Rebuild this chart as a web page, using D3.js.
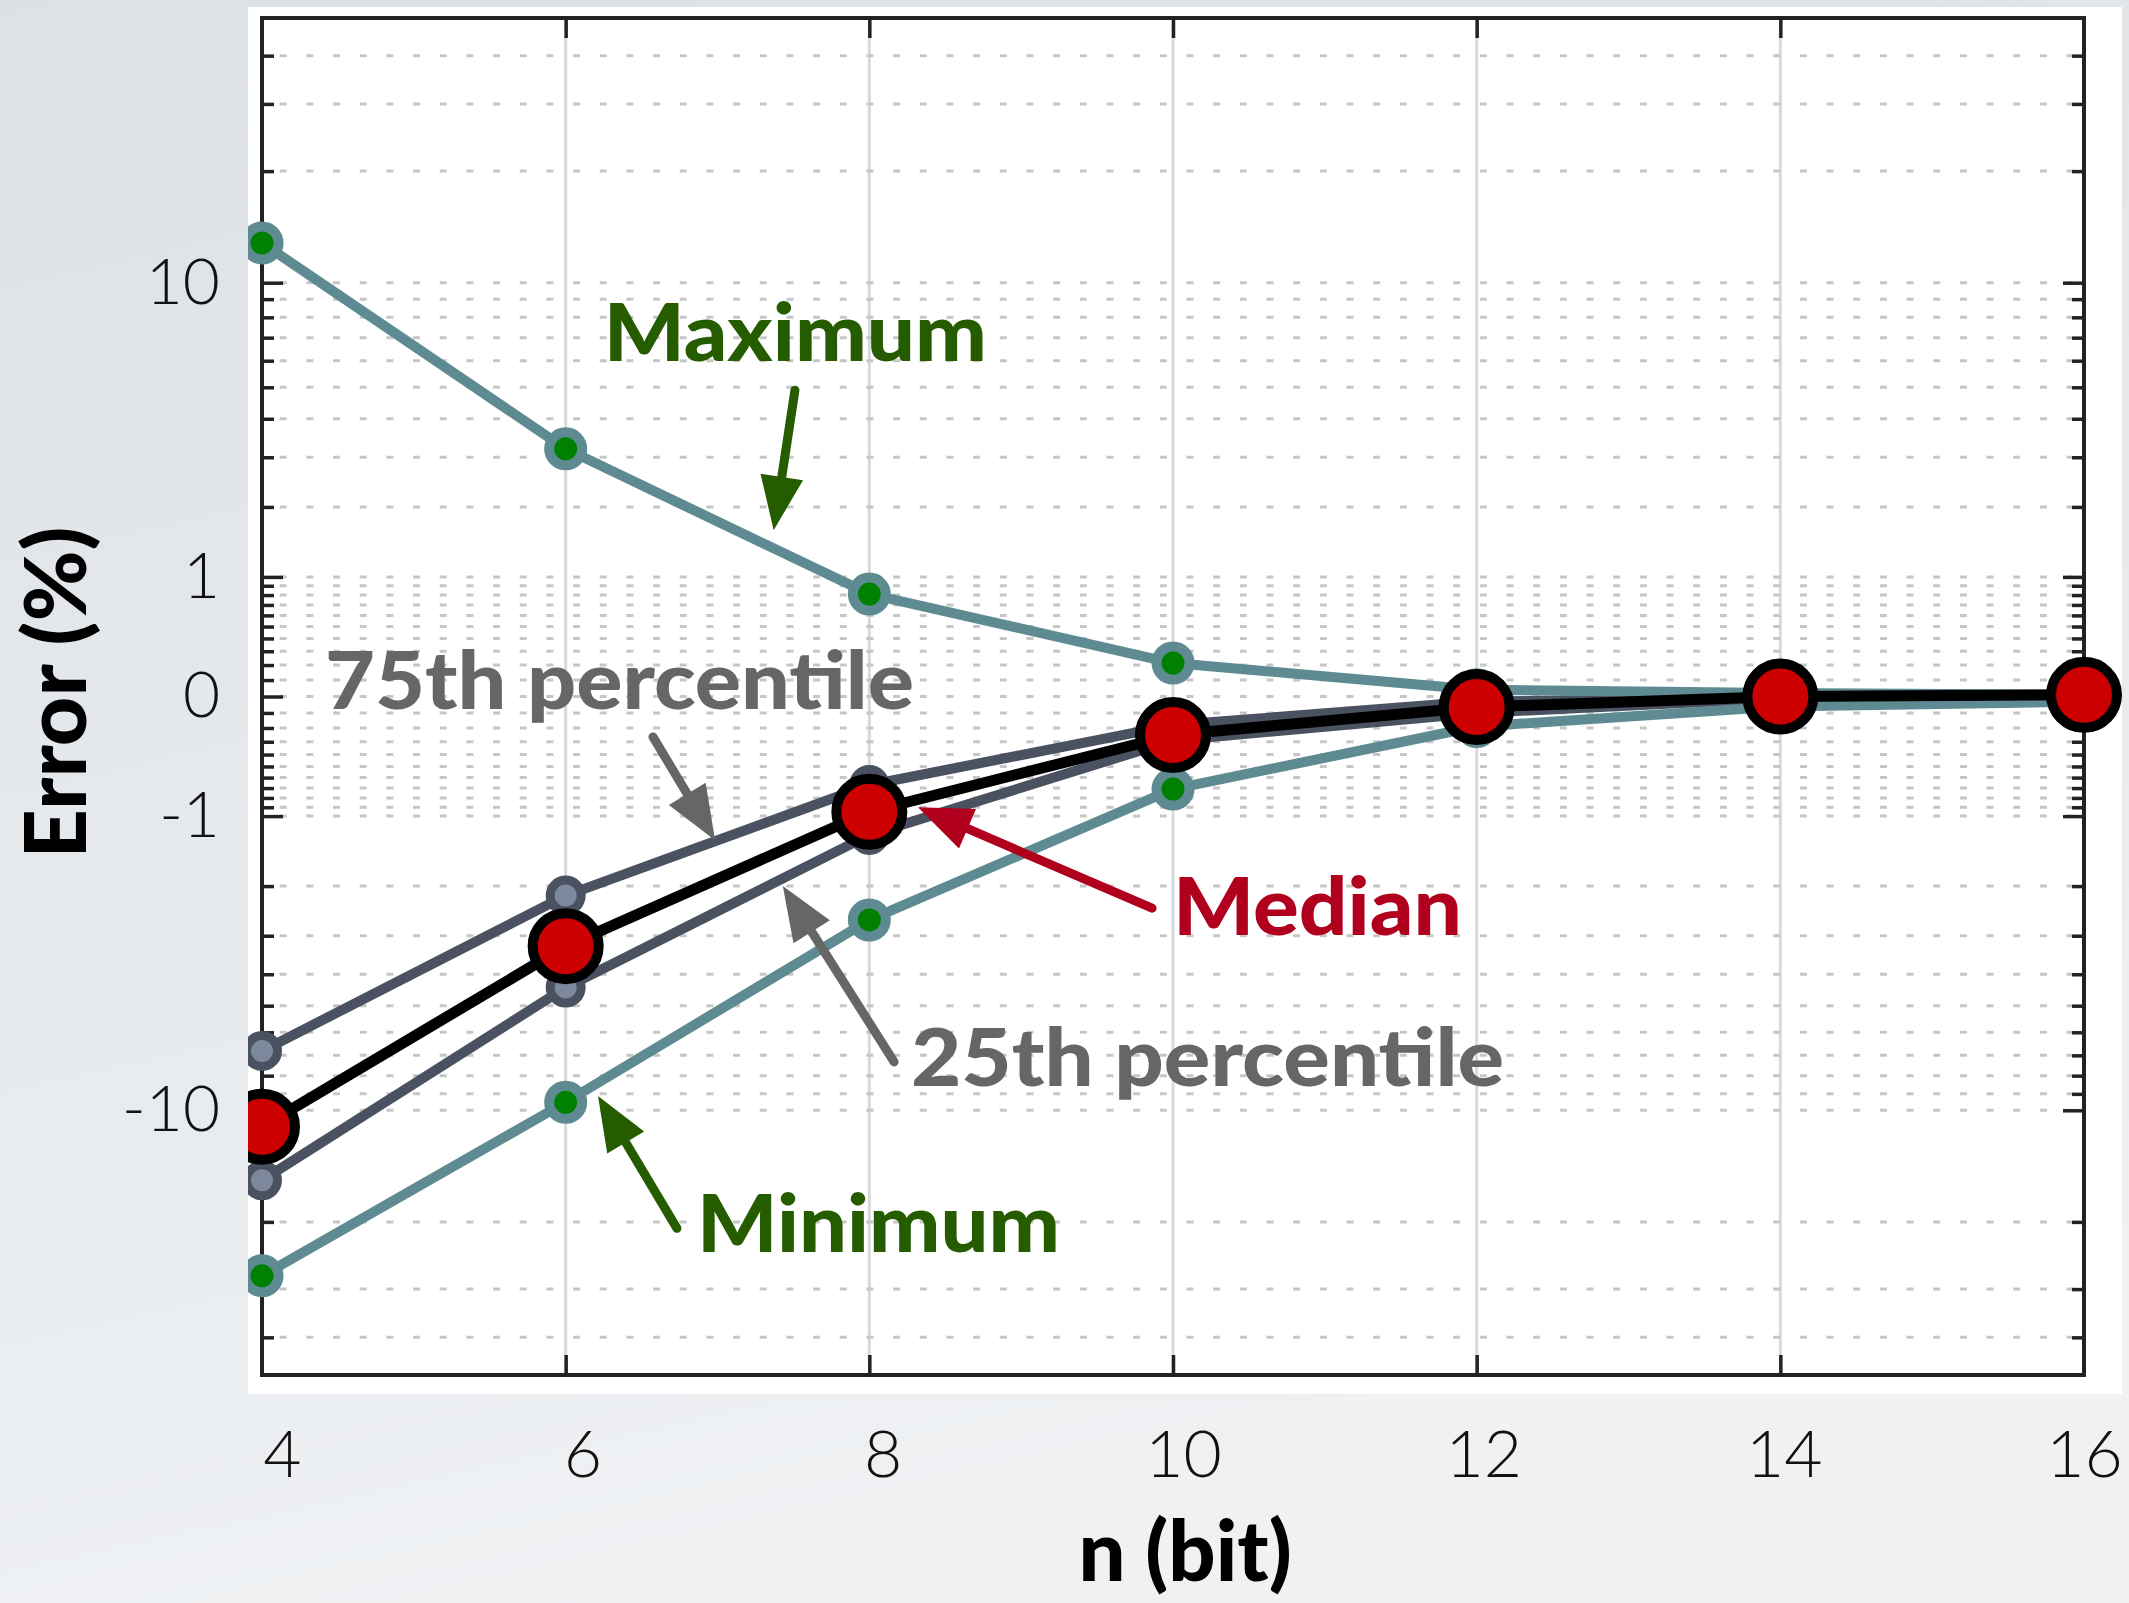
<!DOCTYPE html>
<html lang="en">
<head>
    <meta charset="UTF-8">
    <title>Error vs n (bit)</title>
    <script src="https://d3js.org/d3.v7.min.js"></script>
    <style>
        body { margin: 0; }
        text { font-family: Lato, 'Open Sans', sans-serif; }
        .tick line { stroke: #222; stroke-width: 3.5px; }
    </style>
</head>
<body>
<div class="canvas"></div>
<script>

  // data
  const bits = [4, 6, 8, 10, 12, 14, 16]
  const maximum = [12.85, 3.2, 0.81, 0.214, 0.04, 0.02, 0.01]
  const pct75 = [-6.8, -2.17, -0.67, -0.18, -0.03, -0.005, 0]
  const median = [-11.1, -3.25, -0.95, -0.25, -0.063, 0, 0.01]
  const pct25 = [-15.5, -4.4, -1.23, -0.29, -0.1, -0.01, 0]
  const minimum = [-27.7, -9.5, -2.65, -0.71, -0.19, -0.06, -0.03]

  const xTicks = [4, 6, 8, 10, 12, 14, 16]
  const xTickLabels = ['4', '6', '8', '10', '12', '14', '16']
  const yMajor = [-10, -1, 0, 1, 10]
  const yTickLabels = ['-10', '-1', '0', '1', '10']
  const yMinorPos = [0.1, 0.2, 0.3, 0.4, 0.5, 0.6, 0.7, 0.8, 0.9, 2, 3, 4, 5, 6, 7, 8, 9, 20, 30, 40]
  const yMinor = [...yMinorPos.map(v => -v), ...yMinorPos]

  // annotation layout, in data units: [x, y]
  const notes = [
    { text: 'Maximum', color: '#265c00', at: [6.25, 6.0], end: 8.775, from: [7.51, 4.9], tip: [7.37, 1.62] },
    { text: '75th percentile', color: '#666666', at: [4.415, -0.075], end: 8.294, from: [6.575, -0.264], tip: [6.984, -1.30] },
    { text: 'Median', color: '#b0001e', at: [10.0, -2.98], end: 11.903, from: [9.862, -2.41], tip: [8.32, -0.90] },
    { text: '25th percentile', color: '#666666', at: [8.274, -8.55], end: 12.18, from: [8.163, -7.31], tip: [7.43, -2.0] },
    { text: 'Minimum', color: '#265c00', at: [6.865, -24.0], end: 9.256, from: [6.733, -20.8], tip: [6.213, -9.13] }
  ]

  const width = 2129
  const height = 1603
  let [mt, mb, mr, ml] = [18, 228, 45, 262]

  const graphWidth = width - ml - mr
  const graphHeight = height - mt - mb

  const svg = d3.select('.canvas')
    .append('svg')
    .attr('width', width)
    .attr('height', height)

  const grad = svg.append('defs').append('linearGradient')
    .attr('id', 'bg').attr('x1', 0).attr('y1', 0).attr('x2', 0.3).attr('y2', 1)
  grad.append('stop').attr('offset', '0%').attr('stop-color', '#dce1e6')
  grad.append('stop').attr('offset', '100%').attr('stop-color', '#eff1f3')

  svg.append('rect')
    .attr('width', width)
    .attr('height', height)
    .attr('fill', 'url(#bg)')

  const graph = svg.append('g')
    .attr('transform', `translate(${ml}, ${mt})`)

  // white panel behind the plot, also used to clip the series
  const panel = { x: -14, y: -11, w: graphWidth + 52, h: graphHeight + 30 }
  graph.append('rect')
    .attr('x', panel.x).attr('y', panel.y)
    .attr('width', panel.w).attr('height', panel.h)
    .attr('fill', '#fff')
  svg.select('defs').append('clipPath').attr('id', 'clip')
    .append('rect')
    .attr('x', panel.x).attr('y', panel.y)
    .attr('width', panel.w).attr('height', panel.h)

  const x = d3.scaleLinear()
    .domain([4, 16])
    .range([0, graphWidth])

  const y = d3.scaleSymlog()
    .constant(1)
    .domain([-50, 50])
    .range([graphHeight, 0])

  // grid
  graph.append('g')
    .selectAll('line')
    .data(xTicks.slice(1, -1))
    .enter()
    .append('line')
    .attr('x1', d => x(d)).attr('x2', d => x(d))
    .attr('y1', 0).attr('y2', graphHeight)
    .attr('stroke', '#d9d9d9')
    .attr('stroke-width', 3)

  graph.append('g')
    .selectAll('line')
    .data([...yMinor, ...yMajor])
    .enter()
    .append('line')
    .attr('x1', 0).attr('x2', graphWidth)
    .attr('y1', d => y(d)).attr('y2', d => y(d))
    .attr('stroke', '#c6c6c6')
    .attr('stroke-width', 3)
    .attr('stroke-dasharray', '7 19.67')
    .attr('stroke-dashoffset', 9)

  // ticks (inward) on all four sides
  const addAxis = (axis, tx, ty) => {
    const g = graph.append('g').attr('transform', `translate(${tx}, ${ty})`).call(axis)
    g.select('.domain').remove()
    return g
  }

  addAxis(d3.axisLeft(y).tickValues(yMinor).tickSize(-12).tickFormat(''), 0, 0)
  addAxis(d3.axisRight(y).tickValues(yMinor).tickSize(-12).tickFormat(''), graphWidth, 0)
  addAxis(d3.axisRight(y).tickValues(yMajor).tickSize(-21).tickFormat(''), graphWidth, 0)
  const yAxisG = addAxis(
    d3.axisLeft(y).tickValues(yMajor).tickSize(-21).tickPadding(42)
      .tickFormat((d, i) => yTickLabels[i]), 0, 0)
  yAxisG.selectAll('text')
    .attr('fill', '#111')
    .style('font-size', '64px')
    .style('font-weight', 300)

  addAxis(d3.axisBottom(x).tickValues(xTicks.slice(1, -1)).tickSize(-20).tickFormat(''), 0, graphHeight)
  addAxis(d3.axisTop(x).tickValues(xTicks.slice(1, -1)).tickSize(-20).tickFormat(''), 0, 0)

  // tick labels sit on a slightly shifted row under the panel
  const xLabel = d3.scaleLinear().domain([4, 16]).range([20, graphWidth])
  const xAxisG = addAxis(
    d3.axisBottom(xLabel).tickValues(xTicks).tickSize(0)
      .tickFormat((d, i) => xTickLabels[i]), 0, graphHeight + 102)
  xAxisG.selectAll('text')
    .attr('y', 0).attr('dy', 0)
    .attr('fill', '#111')
    .style('font-size', '66px')
    .style('font-weight', 300)

  // frame
  graph.append('rect')
    .attr('width', graphWidth)
    .attr('height', graphHeight)
    .attr('fill', 'none')
    .attr('stroke', '#222')
    .attr('stroke-width', 4)

  // axis titles
  svg.append('text')
    .attr('x', ml + x(10.08))
    .attr('y', 1581)
    .attr('text-anchor', 'middle')
    .style('font-size', '83px')
    .style('font-weight', 900)
    .attr('fill', '#000')
    .text('n (bit)')

  svg.append('text')
    .attr('transform', `translate(86, ${mt + y(0) - 4}) rotate(-90)`)
    .attr('text-anchor', 'middle')
    .style('font-size', '86px')
    .style('font-weight', 900)
    .attr('fill', '#000')
    .text('Error (%)')

  // series
  const plot = graph.append('g').attr('clip-path', 'url(#clip)')

  const line = d3.line()
    .x((d, i) => x(bits[i]))
    .y(d => y(d))

  const series = [
    { values: pct75, stroke: '#4a5160', fill: '#7e889c', lw: 10, r: 15.5, sw: 9 },
    { values: pct25, stroke: '#4a5160', fill: '#7e889c', lw: 10, r: 15.5, sw: 9 },
    { values: maximum, stroke: '#5e8b92', fill: '#008000', lw: 10, r: 16.5, sw: 10 },
    { values: minimum, stroke: '#5e8b92', fill: '#008000', lw: 10, r: 16.5, sw: 10 },
    { values: median, stroke: '#000000', fill: '#cc0000', lw: 11, r: 33, sw: 10 }
  ]

  series.forEach(s => {
    plot.append('path')
      .attr('fill', 'none')
      .attr('stroke', s.stroke)
      .attr('stroke-width', s.lw)
      .attr('stroke-linejoin', 'round')
      .attr('d', line(s.values))

    plot.append('g')
      .selectAll('circle')
      .data(s.values)
      .enter()
      .append('circle')
      .attr('cx', (d, i) => x(bits[i]))
      .attr('cy', d => y(d))
      .attr('r', s.r)
      .attr('fill', s.fill)
      .attr('stroke', s.stroke)
      .attr('stroke-width', s.sw)
  })

  // annotations
  const headLen = 54
  const headHalf = 21.5

  notes.forEach(n => {
    const [sx, sy] = [x(n.from[0]), y(n.from[1])]
    const [tx, ty] = [x(n.tip[0]), y(n.tip[1])]
    const len = Math.hypot(tx - sx, ty - sy)
    const ux = (tx - sx) / len, uy = (ty - sy) / len
    const bx = tx - ux * headLen, by = ty - uy * headLen

    graph.append('line')
      .attr('x1', sx).attr('y1', sy)
      .attr('x2', tx - ux * headLen * 0.7).attr('y2', ty - uy * headLen * 0.7)
      .attr('stroke', n.color)
      .attr('stroke-width', 9)
      .attr('stroke-linecap', 'round')

    graph.append('path')
      .attr('d', `M${tx},${ty}L${bx - uy * headHalf},${by + ux * headHalf}L${bx + uy * headHalf},${by - ux * headHalf}Z`)
      .attr('fill', n.color)

    graph.append('text')
      .attr('x', x(n.at[0]))
      .attr('y', y(n.at[1]))
      .attr('textLength', x(n.end) - x(n.at[0]))
      .attr('lengthAdjust', 'spacingAndGlyphs')
      .attr('fill', n.color)
      .style('font-size', '80px')
      .style('font-weight', 900)
      .text(n.text)
  })

</script>
</body>
</html>
